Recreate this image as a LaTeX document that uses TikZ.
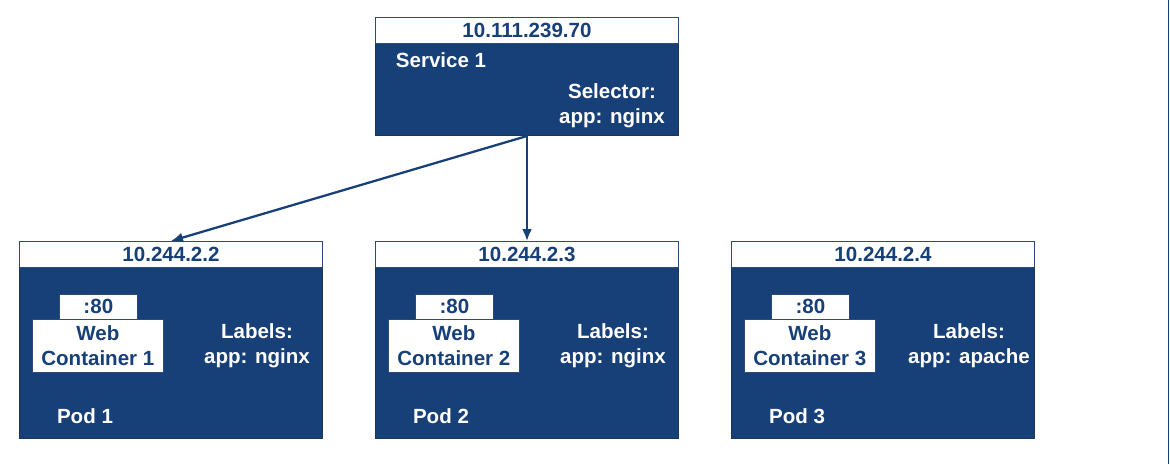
\documentclass[tikz,border=0pt]{standalone}
\usepackage{fontspec}
\setmainfont{Liberation Sans}
\usetikzlibrary{arrows.meta}
\definecolor{kblue}{HTML}{173F78}
\definecolor{kedge}{HTML}{2B4A78}
\begin{document}
\begin{tikzpicture}[x=0.75pt,y=-0.75pt,
  every node/.style={font=\fontsize{15.4}{18.75}\selectfont\bfseries, inner sep=0pt},
  hdr/.style={draw=kedge, line width=0.75pt, fill=white, text=kblue, anchor=north west, minimum width=227.25pt, minimum height=19.5pt},
  bodybox/.style={draw=kedge!70!black, line width=0.75pt, fill=kblue, anchor=north west, minimum width=227.25pt},
  wt/.style={text=white, align=center},
  portbox/.style={draw=kedge, line width=0.5pt, fill=white, text=kblue, anchor=north west, minimum width=58.5pt, minimum height=18.75pt},
  contbox/.style={draw=kedge, line width=0.5pt, fill=white, text=kblue, anchor=north west, minimum width=98.25pt, minimum height=39.75pt, align=center},
  link/.style={draw=kblue, line width=1.7pt, -{Latex[length=9pt,width=7.5pt]}}
]
\useasboundingbox (0,0) rectangle (1170,464);
\fill[white] (0,0) rectangle (1170,464);
\draw[kblue, line width=1.2pt] (1168.5,0) -- (1168.5,464);

% Service
\node[bodybox, minimum height=69pt] (sb) at (375,43) {};
\node[hdr] (sh) at (375,17) {10.111.239.70};
\node[wt] (s1) at (441,60) {Service 1};
\node[wt] (sel) at (612,106) {Selector:\\app: nginx};

% Pods
\foreach \i/\x/\ip/\lab in {1/19/10.244.2.2/nginx, 2/375/10.244.2.3/nginx, 3/731/10.244.2.4/apache}{
  \node[bodybox, minimum height=128.25pt] (p\i b) at (\x,267) {};
  \node[hdr] (p\i h) at (\x,241) {\ip};
  \node[portbox] (p\i port) at (\x+40,294) {:80};
  \node[contbox] (p\i c) at (\x+13,319) {Web\\Container \i};
  \node[wt] (p\i lab) at (\x+238,346) {Labels:\\app: \lab};
  \node[wt] (p\i name) at (\x+66,416) {Pod \i};
}

\draw[link] (sb.south) -- (p1h.north);
\draw[link] (sb.south) -- (p2h.north);
\end{tikzpicture}
\end{document}
